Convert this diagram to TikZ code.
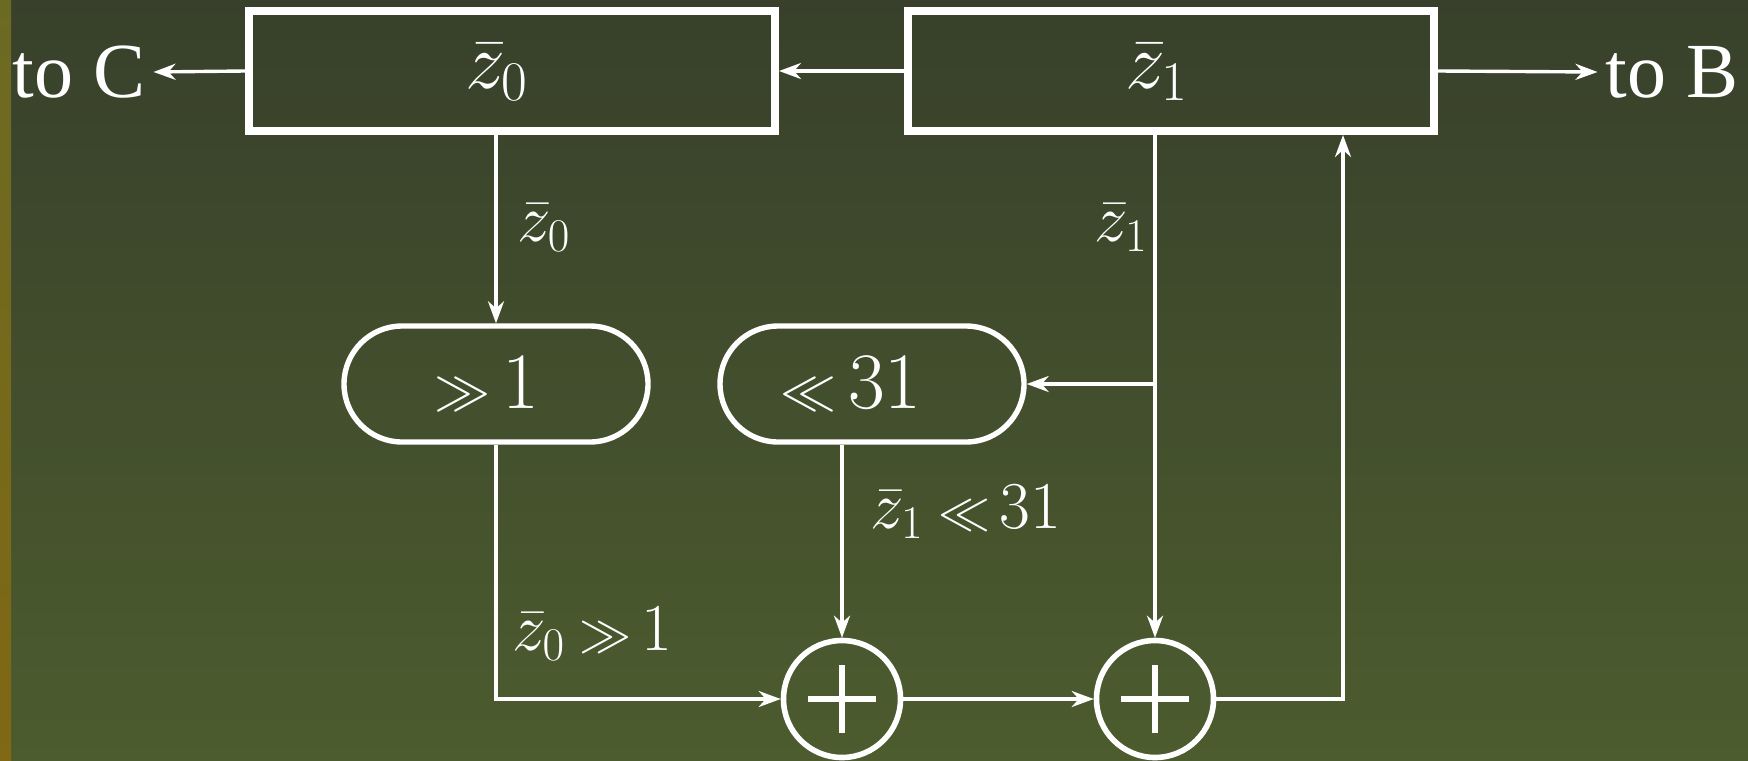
\documentclass[tikz,border=0pt]{standalone}
\usepackage{fix-cm}
\usepackage[no-math]{fontspec}
\setmainfont{Liberation Serif}
\usetikzlibrary{arrows.meta,shapes.misc}
\definecolor{bgtop}{RGB}{56,64,43}
\definecolor{bgbot}{RGB}{76,92,46}
\definecolor{striptop}{RGB}{107,106,35}
\definecolor{stripbot}{RGB}{128,104,20}
\newcommand\relsz[2]{\hbox{\fontsize{#1}{#1}\selectfont$#2$}}
\begin{document}
\begin{tikzpicture}[x=0.5pt,y=-0.5pt,
  font=\fontsize{39}{47}\selectfont,
  every node/.style={text=white},
  mathlbl/.style={inner sep=0pt,font=\fontsize{40}{48}\selectfont},
  edgelbl/.style={inner sep=0pt,font=\fontsize{33.5}{40}\selectfont},
  regbox/.style={draw=white,line width=4pt,minimum width=263pt,minimum height=60pt,inner sep=0pt},
  shiftop/.style={draw=white,line width=2.7pt,rounded rectangle,minimum width=152pt,minimum height=58pt,inner sep=0pt},
  adder/.style={draw=white,circle,line width=2.8pt,minimum size=58.5pt,inner sep=0pt,
    path picture={\draw[white,line width=3pt]
      ([xshift=-17pt]path picture bounding box.center) -- ([xshift=17pt]path picture bounding box.center)
      ([yshift=-17pt]path picture bounding box.center) -- ([yshift=17pt]path picture bounding box.center);}},
  conn/.style={draw=white,line width=1.7pt},
  arr/.style={conn,-{Stealth[length=11pt,width=8pt,inset=3.5pt]}},
  outlbl/.style={inner sep=4pt}
]
\useasboundingbox (0,0) rectangle (1748,760);
\shade[top color=bgtop,bottom color=bgbot] (0,0) rectangle (1748,760);
\shade[top color=striptop,bottom color=stripbot] (0,0) rectangle (11,760);

\node[regbox] (box0) at (512,71) {};
\node[mathlbl] (lab0) at (497,72) {$\bar z_0$};
\node[regbox] (box1) at (1171,71) {};
\node[mathlbl] (lab1) at (1157,72) {$\bar z_1$};
\node[outlbl] (toC) at (79,72) {to C};
\node[outlbl] (toB) at (1672,72) {to B};

\node[shiftop] (sh0) at (496,384) {};
\node[mathlbl] (sh0t) at (487,384) {$\relsz{28}{\gg}\mkern2.6mu 1$};
\node[shiftop] (sh1) at (872,384) {};
\node[mathlbl] (sh1t) at (851,384) {$\relsz{28}{\ll}\mkern2.6mu 31$};
\node[adder] (c1) at (842,699) {};
\node[adder] (c2) at (1155,699) {};
\coordinate (up) at (1343,699);

\node[edgelbl] (e0) at (544,228) {$\bar z_0$};
\node[edgelbl] (e1) at (1121,228) {$\bar z_1$};
\node[edgelbl] (e2) at (966,512) {$\bar z_1\mkern4mu\relsz{26}{\ll}\mkern2.5mu 31$};
\node[edgelbl] (e3) at (592,634) {$\bar z_0\mkern4mu\relsz{26}{\gg}\mkern2.5mu 1$};

\draw[arr] (box0.west) -- (toC.east);
\draw[arr] (box1.west) -- (box0.east);
\draw[arr] (box1.east) -- (toB.west);
\draw[arr] (sh0.north |- box0.south) -- (sh0.north);
\draw[arr] (c2.north |- box1.south) -- (c2.north);
\draw[arr] (sh1.east -| c2) -- (sh1.east);
\draw[arr] (sh0.south) -- (sh0.south |- c1.west) -- (c1.west);
\draw[arr] (c1 |- sh1.south) -- (c1.north);
\draw[arr] (c1.east) -- (c2.west);
\draw[arr] (c2.east) -- (up) -- (up |- box1.south);
\end{tikzpicture}
\end{document}
